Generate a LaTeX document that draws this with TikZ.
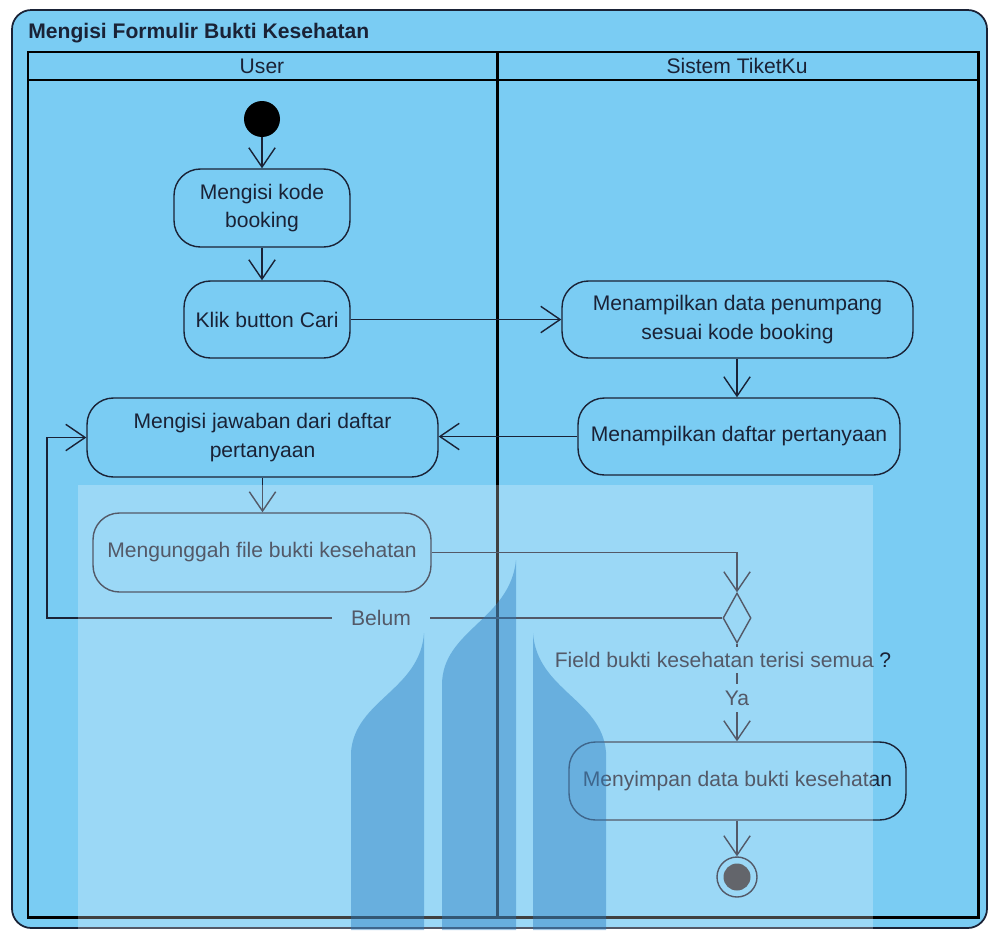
\documentclass[tikz,border=0pt]{standalone}
\usepackage{fontspec}
\setmainfont{Liberation Sans}
\usetikzlibrary{arrows.meta,shapes.geometric}
\definecolor{lanebg}{RGB}{122,204,243}
\definecolor{ink}{RGB}{26,34,54}
\definecolor{markblue}{RGB}{35,120,190}
\definecolor{endfill}{RGB}{48,50,58}

\begin{document}
\begin{tikzpicture}[x=0.02cm,y=-0.02cm,
  font=\fontsize{12}{16}\selectfont,
  action/.style={draw=ink, line width=0.8pt, rounded corners=15pt, align=center,
                 text=ink, inner sep=2pt},
  flow/.style={draw=ink, line width=0.8pt,
               -{Straight Barb[length=11pt,width=15pt,line width=0.8pt]}},
  laneline/.style={draw=black, line width=1.7pt},
  guard/.style={fill=lanebg, text=ink, inner sep=2pt}]

\useasboundingbox (0,0) rectangle (990,930);
\fill[white] (0,0) rectangle (990,930);

% activity frame
\draw[fill=lanebg, draw=ink, line width=1pt, rounded corners=11pt] (12,10) rectangle (987,928);
\node[anchor=west, inner sep=0, text=ink, font=\bfseries\fontsize{12}{15}\selectfont]
  (title) at (28,33) {Mengisi Formulir Bukti Kesehatan};

% swimlanes
\draw[laneline] (28,52) rectangle (978,917);
\draw[laneline] (28,80) -- (978,80);
\draw[laneline] (497,52) -- (497,917);
\node[text=ink] (laneuser) at (262,66) {User};
\node[text=ink] (lanesys) at (737,66) {Sistem TiketKu};

% nodes
\node[circle, fill=black, minimum size=0.72cm, inner sep=0] (start) at (262,119) {};
\node[action, minimum width=3.52cm, minimum height=1.56cm] (kode) at (262,208)
  {Mengisi kode\\booking};
\node[action, minimum width=3.32cm, minimum height=1.54cm] (cari) at (267,319.5)
  {Klik button Cari};
\node[action, minimum width=7.02cm, minimum height=1.54cm] (tampil) at (737.5,319.5)
  {Menampilkan data penumpang\\sesuai kode booking};
\node[action, minimum width=6.44cm, minimum height=1.54cm] (daftar) at (739,436.5)
  {Menampilkan daftar pertanyaan};
\node[action, minimum width=7.02cm, minimum height=1.58cm] (jawab) at (262.5,437.5)
  {Mengisi jawaban dari daftar\\pertanyaan};
\node[action, minimum width=6.76cm, minimum height=1.58cm] (unggah) at (262,552.5)
  {Mengunggah file bukti kesehatan};
\node[diamond, draw=ink, line width=0.8pt, minimum width=0.56cm, minimum height=1.0cm,
  inner sep=0] (cek) at (737,618) {};
\node[action, minimum width=6.74cm, minimum height=1.56cm] (simpan) at (737.5,781)
  {Menyimpan data bukti kesehatan};
\node[circle, draw=ink, line width=0.8pt, minimum size=0.8cm, inner sep=0] (finish) at (737,877) {};
\fill[endfill] (finish.center) circle (0.27cm);

% control flow
\draw[flow] (start) -- (kode);
\draw[flow] (kode.south) -- (kode.south |- cari.north);
\draw[flow] (cari.east) -- (cari.east -| tampil.west);
\draw[flow] (tampil.south -| cek) -- (cek |- daftar.north);
\draw[flow] (daftar.west) -- (daftar.west -| jawab.east);
\draw[flow] (jawab.south) -- (jawab.south |- unggah.north);
\draw[flow] (unggah.east) -| (cek.north);
\coordinate (loopc) at (47,618);
\draw[flow] (cek.west) -- (loopc) |- (jawab.west);
\draw[flow] (cek.south) -- (cek |- simpan.north);
\draw[flow] (simpan.south -| finish) -- (finish.north);

% guards
\node[guard, inner xsep=11pt] (belum) at (381,618) {Belum};
\node[guard, inner ysep=3pt] (field) at (723,660) {Field bukti kesehatan terisi semua ?};
\node[guard, inner ysep=4pt] (ya) at (737,698) {Ya};

% faint emblem printed over the lower part
\fill[white, fill opacity=0.25] (78,485) rectangle (873,930);
\fill[markblue, fill opacity=0.42]
  (351,930) -- (351,752) .. controls (355,700) and (420,690) .. (424,633) -- (424,930) -- cycle;
\fill[markblue, fill opacity=0.42]
  (442,930) -- (442,685) .. controls (442,630) and (510,620) .. (516,560) -- (516,930) -- cycle;
\fill[markblue, fill opacity=0.42]
  (606,930) -- (606,752) .. controls (602,700) and (537,690) .. (533,633) -- (533,930) -- cycle;
\end{tikzpicture}
\end{document}
